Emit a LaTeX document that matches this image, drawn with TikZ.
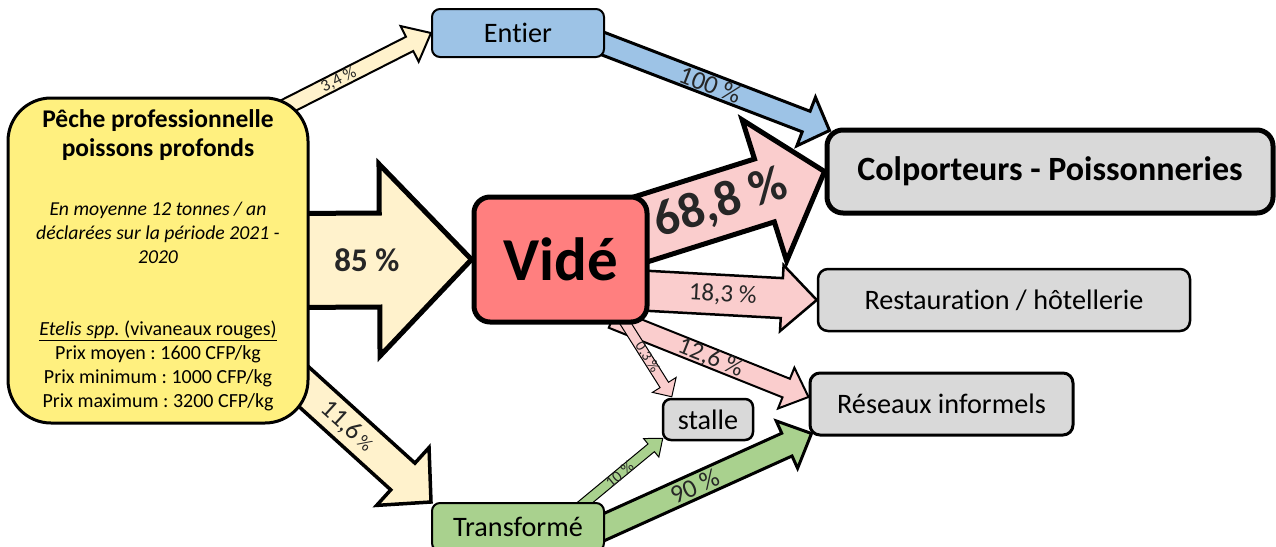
\documentclass[tikz,border=0pt]{standalone}
\usepackage{fontspec}
\setmainfont{Carlito}[Ligatures=NoCommon]
\frenchspacing
\usetikzlibrary{calc, backgrounds}
\definecolor{pecheyellow}{HTML}{FFF07F}
\definecolor{cream}{HTML}{FFF2CC}
\definecolor{entierblue}{HTML}{9DC3E6}
\definecolor{videred}{HTML}{FF7F7F}
\definecolor{videpink}{HTML}{FACDCD}
\definecolor{greybox}{HTML}{D9D9D9}
\definecolor{transfgreen}{HTML}{A9D18E}
\newcommand{\fsz}[1]{\fontsize{#1}{#1}\selectfont}
\newcommand{\fatarrow}[8]{%
  \coordinate (hb) at ($(#3)!#6!(#2)$);
  \draw[#1] ($(#2)!#4!90:(#3)$) -- ($(hb)!#4!90:(#3)$) -- ($(hb)!#5!90:(#3)$) -- (#3)
    -- ($(hb)!#5!-90:(#3)$) -- ($(hb)!#4!-90:(#3)$) -- ($(#2)!#4!-90:(#3)$) -- cycle;
  \path (#2) -- (#3) node[sloped, lab, #7] {#8};
}

\begin{document}
\begin{tikzpicture}[x=1pt, y=-1pt,
    box/.style={draw, rounded corners=10pt, line width=2.5pt, fill=greybox, font=\fsz{28.2}},
    lab/.style={text=black!85}]
  \useasboundingbox (0,0) rectangle (1276,546);
  \node[box, fill=pecheyellow, rounded corners=43pt, line width=3pt, minimum width=300pt, minimum height=325pt,
        text width=290pt, align=flush center, inner sep=0pt] (peche) at (158,260.5) {%
    \fontsize{25.5}{28.5}\selectfont\bfseries Pêche professionnelle\\ poissons profonds\par
    \vspace{35pt}
    \fontsize{19.7}{24}\selectfont\mdseries\itshape En moyenne 12 tonnes / an\\ déclarées sur la période 2021 -\\ 2020\par
    \vspace{48pt}
    \fontsize{20}{24}\selectfont\upshape\underline{\textit{Etelis spp.} (vivaneaux rouges)}\\ Prix moyen : 1600 CFP/kg\\
    Prix minimum : 1000 CFP/kg\\ Prix maximum : 3200 CFP/kg\par
    \vspace{-5pt}};
  \node[box, fill=entierblue, rounded corners=8pt, line width=2pt, minimum width=172pt, minimum height=48pt] (entier) at (518,33) {Entier};
  \node[box, fill=videred, rounded corners=16pt, line width=5pt, minimum width=173pt, minimum height=125pt, font=\bfseries\fsz{61}] (vide) at (560.5,259.5) {Vidé};
  \node[box, rounded corners=16pt, line width=5pt, minimum width=446pt, minimum height=83pt, font=\bfseries\fsz{34}] (colp) at (1050,171.5) {Colporteurs - Poissonneries};
  \node[box, minimum width=372pt, minimum height=62pt] (resto) at (1004,300) {Restauration / hôtellerie};
  \node[box, line width=3pt, minimum width=263pt, minimum height=62pt] (reseaux) at (941.5,404) {Réseaux informels};
  \node[box, rounded corners=8pt, minimum width=90pt, minimum height=41pt] (stalle) at (708,419.5) {stalle};
  \node[box, fill=transfgreen, rounded corners=8pt, line width=2pt, minimum width=172pt, minimum height=48pt] (transf) at (518,527) {Transformé};

  \begin{scope}[on background layer]
    \coordinate (s34) at (250,125);
    \coordinate (s100) at ($(entier.east)+(-14,6)$);
    \coordinate (t100) at ($(colp.north west)+(5,3)$);
    \coordinate (s85) at ($(peche.east)+(-20,0)$);
    \coordinate (s183) at ($(vide.east)+(-17,30.5)$);
    \coordinate (s688) at ($(vide.east)+(-17,-27.5)$);
    \coordinate (s126) at ($(vide.south east)+(-37,-6)$);
    \coordinate (t126) at ($(reseaux.west)+(0,-7)$);
    \coordinate (s03) at ($(vide.south east)+(-29,-9)$);
    \coordinate (t03) at ($(stalle.north west)+(10,-1)$);
    \coordinate (s116) at ($(peche.south east)+(-28,-58)$);
    \coordinate (s10) at ($(transf.north east)+(-29,8)$);
    \coordinate (t10) at ($(stalle.south west)+(1,-3)$);
    \coordinate (s90) at ($(transf.east)+(-14,6)$);
    \coordinate (t90) at ($(reseaux.south west)+(3,-3)$);

    \fatarrow{fill=cream, line width=2pt}{s34}{entier.west}{8pt}{20pt}{24pt}{pos=0.49, font=\fsz{17}}{3,4 \%}
    \fatarrow{fill=entierblue, line width=3pt}{s100}{t100}{11pt}{26pt}{25pt}{pos=0.5, font=\fsz{26}}{100 \%}
    \fatarrow{fill=cream, line width=5pt}{s85}{vide.west}{47pt}{96pt}{92pt}{pos=0.425, font=\bfseries\fsz{33}}{85 \%}
    \fatarrow{fill=videpink, line width=2.5pt}{s183}{resto.west}{20pt}{33pt}{35pt}{pos=0.49, font=\fsz{25}}{18,3 \%}
    \fatarrow{fill=videpink, line width=5pt}{s688}{colp.west}{33pt}{74pt}{63pt}{pos=0.46, font=\bfseries\fsz{50}}{68,8 \%}
    \fatarrow{fill=videpink, line width=2pt}{s126}{t126}{10pt}{22pt}{24pt}{pos=0.5, font=\fsz{25}}{12,6 \%}
    \fatarrow{fill=videpink, line width=1pt}{s03}{t03}{5pt}{14pt}{14pt}{pos=0.52, font=\fsz{15}}{0,3 \%}
    \fatarrow{fill=cream, line width=3.5pt}{s116}{transf.north west}{18pt}{39pt}{38pt}{pos=0.44, font=\fsz{26}}{11,6{\fsz{19}\,\%}}
    \fatarrow{fill=transfgreen, line width=1pt}{s10}{t10}{5pt}{12pt}{15pt}{pos=0.5, font=\fsz{16}}{10 \%}
    \fatarrow{fill=transfgreen, line width=3pt}{s90}{t90}{12.5pt}{26pt}{27pt}{pos=0.47, font=\fsz{26}}{90 \%}
  \end{scope}
\end{tikzpicture}
\end{document}
